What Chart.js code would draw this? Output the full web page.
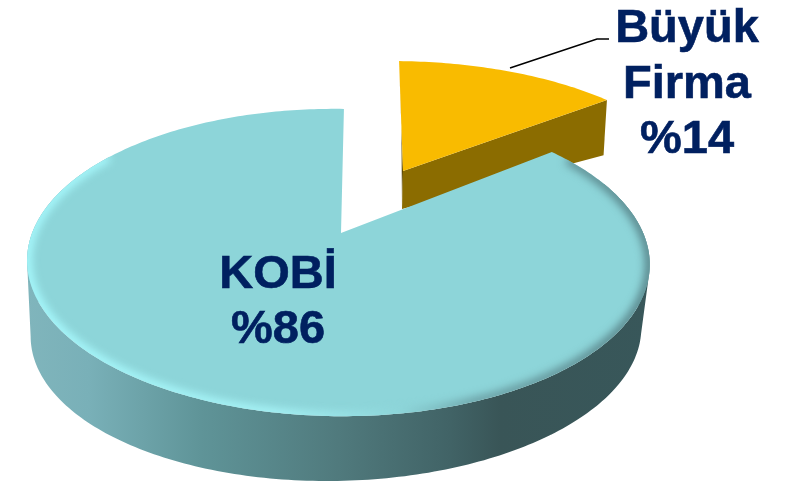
<!DOCTYPE html>
<html>
<head>
<meta charset="utf-8">
<title>KOBİ / Büyük Firma</title>
<style>
    html, body { margin: 0; padding: 0; background: #ffffff; }
    canvas { display: block; }
</style>
<script src="https://cdn.jsdelivr.net/npm/chart.js@4"></script>
</head>
<body>
<canvas id="pieChart" width="794" height="486"></canvas>
<script>
// Chart data
const categories = ['Büyük Firma', 'KOBİ'];
const shares = [14, 86];
const sliceColors = ['#f9bb00', '#8dd5d9'];

// Perspective view of each slice: top face and bottom face of the disc
const sliceViews = [
    {
        top: { cx: 403, cy: 171, rx: 289, ry: 124, k: 0.128, m: 0, shear: -12 },
        bottom: { cx: 402, cy: 209, rx: 262, ry: 87, k: 0, m: 0, shear: -7.5 },
    },
    {
        top: { cx: 341, cy: 233, rx: 305.5, ry: 148, k: 0.192, m: 0.011, shear: -4.5 },
        bottom: { cx: 341, cy: 303.4, rx: 299.5, ry: 143.5, k: 0.192, m: 0.011, shear: 8 },
    },
];

// Text positions, one entry per category
const labelLayout = [
    { x: 687, y: 42, lineHeight: 55.5, size: 47 },
    { x: 278, y: 288, lineHeight: 55, size: 47 },
];

function project(view, angle) {
    const u = Math.cos(angle);
    const v = -Math.sin(angle);
    const w = 1 + view.k * v + view.m * u;
    return {
        x: view.cx + (view.rx * u + view.shear * v) / w,
        y: view.cy - (view.ry * v) / w,
    };
}

function arcPoints(view, start, end) {
    const points = [];
    const steps = Math.max(8, Math.round(Math.abs(end - start) * 60));
    for (let i = 0; i <= steps; i++) {
        points.push(project(view, start + (end - start) * i / steps));
    }
    return points;
}

function addPolygon(ctx, points) {
    points.forEach((p, i) => {
        if (i === 0) ctx.moveTo(p.x, p.y);
        else ctx.lineTo(p.x, p.y);
    });
    ctx.closePath();
}

function tracePolygon(ctx, points) {
    ctx.beginPath();
    addPolygon(ctx, points);
}

function sectorPoints(view, start, end) {
    return [{ x: view.cx, y: view.cy }].concat(arcPoints(view, start, end));
}

// same winding for every quad, otherwise overlapping ones cancel out in a single fill
function clockwise(points) {
    let area = 0;
    points.forEach((p, i) => {
        const q = points[(i + 1) % points.length];
        area += p.x * q.y - q.x * p.y;
    });
    return area < 0 ? points.slice().reverse() : points;
}

function drawSmallSlice(ctx, arc, view) {
    const a = arc.startAngle;
    const b = arc.endAngle;
    const topApex = { x: view.top.cx, y: view.top.cy };
    const bottomApex = { x: view.bottom.cx, y: view.bottom.cy };

    // left cut face, only a sliver of it shows
    tracePolygon(ctx, [topApex, project(view.top, a), project(view.bottom, a), bottomApex]);
    ctx.fillStyle = '#5c4700';
    ctx.fill();

    // right cut face
    tracePolygon(ctx, [topApex, project(view.top, b), project(view.bottom, b), bottomApex]);
    ctx.fillStyle = '#8b6c00';
    ctx.fill();

    tracePolygon(ctx, sectorPoints(view.top, a, b));
    ctx.fillStyle = arc.options.backgroundColor;
    ctx.fill();
}

function drawLargeSlice(ctx, arc, view) {
    const a = arc.startAngle;
    const b = arc.endAngle;

    // side wall, front part only; all quads in one path so the silhouette stays closed without seams
    const topEdge = arcPoints(view.top, a + 0.3, b - 1.0);
    const bottomEdge = arcPoints(view.bottom, a + 0.3, b - 1.0);
    const wall = ctx.createLinearGradient(26, 0, 650, 0);
    wall.addColorStop(0, '#80b5bc');
    wall.addColorStop(0.1, '#79b0b8');
    wall.addColorStop(0.28, '#5f9498');
    wall.addColorStop(0.5, '#507a7d');
    wall.addColorStop(0.68, '#416366');
    wall.addColorStop(0.76, '#395557');
    wall.addColorStop(1, '#38575a');
    ctx.beginPath();
    for (let i = 0; i < topEdge.length - 1; i++) {
        addPolygon(ctx, clockwise([topEdge[i], topEdge[i + 1], bottomEdge[i + 1], bottomEdge[i]]));
    }
    ctx.fillStyle = wall;
    ctx.fill();

    // top face
    const face = sectorPoints(view.top, a, b);
    tracePolygon(ctx, face);
    ctx.fillStyle = arc.options.backgroundColor;
    ctx.fill();

    // soft bevel along the front rim, light on the left and dark on the right
    ctx.save();
    tracePolygon(ctx, face);
    ctx.clip();
    const bevel = ctx.createLinearGradient(26, 0, 650, 0);
    bevel.addColorStop(0, '#a8fbff');
    bevel.addColorStop(0.4, '#a8f5f8');
    bevel.addColorStop(0.6, '#8dd5d9');
    bevel.addColorStop(0.72, '#6a9ea3');
    bevel.addColorStop(1, '#557f84');
    ctx.filter = 'blur(4px)';
    ctx.strokeStyle = bevel;
    ctx.lineWidth = 9;
    ctx.beginPath();
    arcPoints(view.top, a + 0.08, b - 1.0).forEach((p, i) => {
        if (i === 0) ctx.moveTo(p.x, p.y);
        else ctx.lineTo(p.x, p.y);
    });
    ctx.stroke();
    ctx.restore();
}

function labelLines(index) {
    return categories[index].split(' ').concat('%' + shares[index]);
}

// Draws the pie as a tilted, extruded disc from the angles the doughnut controller computed
const tiltedPie = {
    id: 'tiltedPie',
    beforeDatasetDraw(chart, args) {
        const ctx = chart.ctx;
        const arcs = chart.getDatasetMeta(args.index).data;
        ctx.save();
        drawSmallSlice(ctx, arcs[0], sliceViews[0]);
        drawLargeSlice(ctx, arcs[1], sliceViews[1]);
        ctx.restore();
        return false;
    },
    afterDatasetsDraw(chart) {
        const ctx = chart.ctx;
        ctx.save();

        // leader line of the small slice
        ctx.strokeStyle = '#000000';
        ctx.lineWidth = 1.5;
        ctx.beginPath();
        ctx.moveTo(510, 68);
        ctx.lineTo(597, 39);
        ctx.lineTo(609, 39);
        ctx.stroke();

        ctx.fillStyle = '#002060';
        ctx.strokeStyle = '#002060';
        ctx.lineWidth = 0.6;
        ctx.textAlign = 'center';
        ctx.textBaseline = 'alphabetic';
        labelLayout.forEach((layout, i) => {
            ctx.font = 'bold ' + layout.size + 'px "Liberation Sans"';
            labelLines(i).forEach((line, n) => {
                ctx.fillText(line, layout.x, layout.y + n * layout.lineHeight);
                ctx.strokeText(line, layout.x, layout.y + n * layout.lineHeight);
            });
        });
        ctx.restore();
    },
};

new Chart(document.getElementById('pieChart').getContext('2d'), {
    type: 'pie',
    data: {
        labels: categories,
        datasets: [{
            data: shares,
            backgroundColor: sliceColors,
            borderWidth: 0,
        }],
    },
    options: {
        responsive: false,
        animation: false,
        rotation: 1.5,
        plugins: {
            legend: { display: false },
            tooltip: { enabled: false },
        },
    },
    plugins: [tiltedPie],
});
</script>
</body>
</html>
